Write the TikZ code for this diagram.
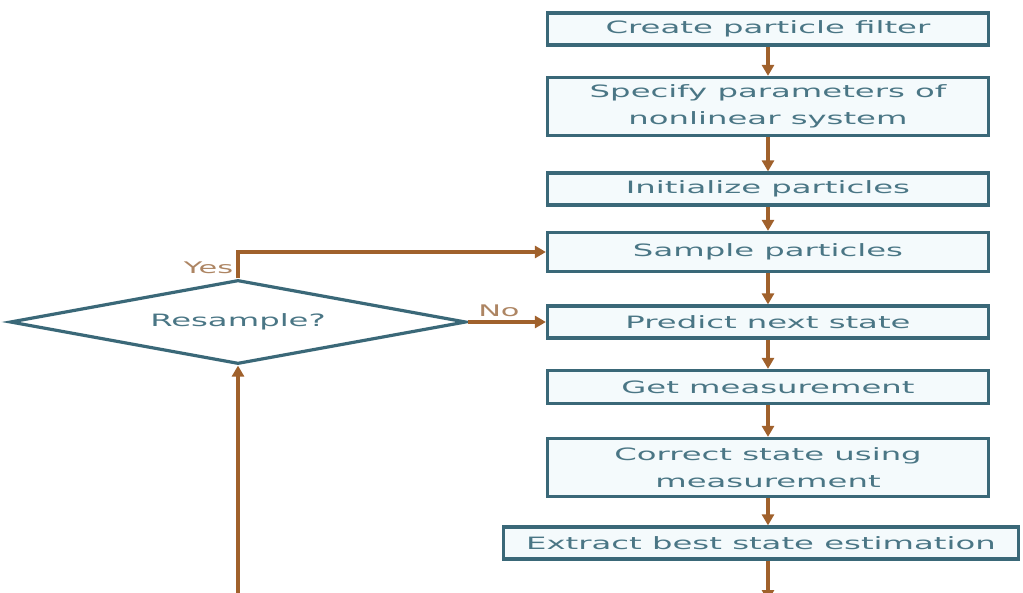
\documentclass[tikz,border=0pt]{standalone}
\usepackage{fontspec}
\usepackage{tikz}
\usetikzlibrary{shapes.geometric,arrows.meta}
\newfontfamily\flowfont{DejaVu Sans}[FakeStretch=1.9]
\definecolor{boxline}{HTML}{3A6878}
\definecolor{boxtext}{HTML}{4A7685}
\definecolor{arrowbrown}{HTML}{A0612C}
\definecolor{labeltan}{HTML}{AD8563}
\definecolor{boxfill}{HTML}{F4FAFC}
\tikzset{stepbox/.style={draw=boxline,fill=boxfill,line width=3.2pt,
    minimum width=441pt,minimum height=32pt,inner sep=2pt,align=center,
    text=boxtext,font=\flowfont\fontsize{17}{27}\selectfont},
    decision/.style={diamond,draw=boxline,fill=white,line width=3.2pt,
    aspect=5.4,minimum width=456pt,minimum height=84pt,inner sep=0pt,
    text=boxtext,font=\flowfont\fontsize{17}{20}\selectfont},
    flow/.style={draw=arrowbrown,line width=3.2pt,-{Triangle[length=11pt,width=12pt]}},
    answer/.style={text=labeltan,font=\flowfont\fontsize{16}{20}\selectfont}}

\begin{document}
\begin{tikzpicture}[x=1pt,y=-1pt]
    \clip (0,0) rectangle (1023,593);
    \useasboundingbox (0,0) rectangle (1023,593);
    \node[stepbox] (create) at (768,29) {Create particle filter};
    \node[stepbox,minimum height=58pt] (specify) at (768,106.5) {Specify parameters of\\nonlinear system};
    \node[stepbox] (init) at (768,189) {Initialize particles};
    \node[stepbox,minimum height=39pt] (sample) at (768,252) {Sample particles};
    \node[stepbox] (predict) at (768,322) {Predict next state};
    \node[stepbox,minimum height=33pt] (measure) at (768,387) {Get measurement};
    \node[stepbox,minimum height=58pt] (correct) at (768,467.5) {Correct state using\\measurement};
    \node[stepbox,minimum width=515pt] (extract) at (761,543) {Extract best state estimation};
    \node[decision] (resample) at (238,322) {Resample?};
    \coordinate (exitend) at (768,601);

    \draw[flow] (create) -- (specify);
    \draw[flow] (specify) -- (init);
    \draw[flow] (init) -- (sample);
    \draw[flow] (sample) -- (predict);
    \draw[flow] (predict) -- (measure);
    \draw[flow] (measure) -- (correct);
    \draw[flow] (correct.south) -- (correct.south |- extract.north);
    \draw[flow] (exitend |- extract.south) -- (exitend);
    \draw[flow] (resample.south |- exitend) -- (resample.south);
    \draw[flow] (resample.north) |- (sample.west)
        node[answer,left,pos=0.2] {Yes};
    \draw[flow] (resample.east) -- (predict.west)
        node[answer,above,pos=0.4] {No};
\end{tikzpicture}
\end{document}
